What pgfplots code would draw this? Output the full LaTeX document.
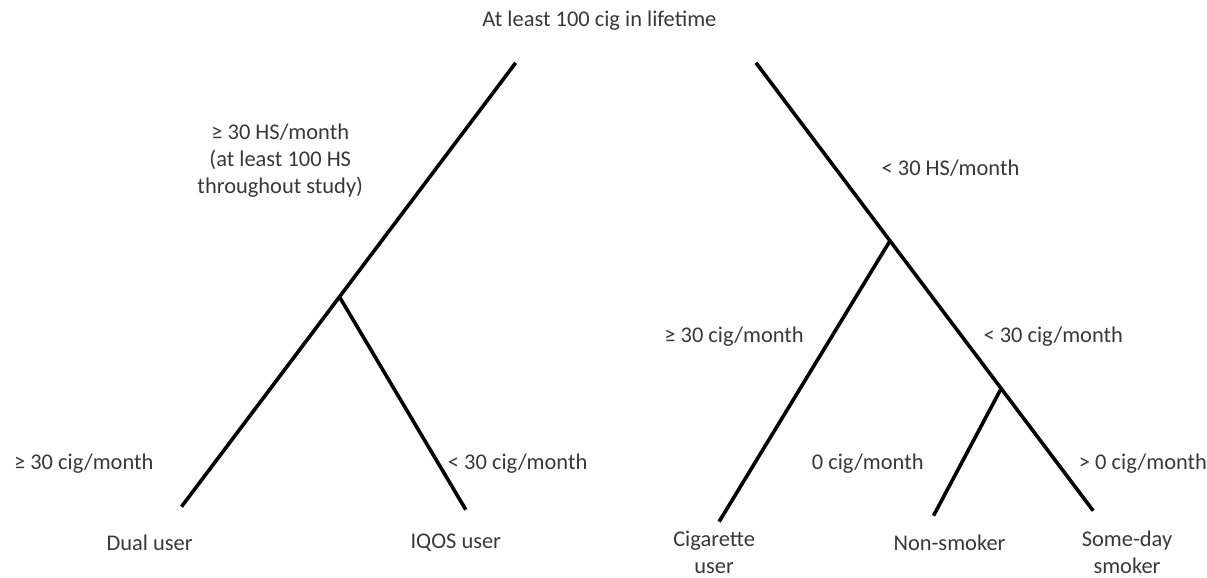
\documentclass[border=0pt]{standalone}
\usepackage{fontspec}
\setmainfont{Carlito}
\usepackage{pgfplots}
\pgfplotsset{compat=1.18}
\tikzset{lbl/.style={text=black!78,font=\fontsize{11.25}{13.6}\selectfont,align=center,inner sep=0pt,anchor=center}}
\begin{document}
\begin{tikzpicture}
\begin{axis}[width=603.5pt,height=289.5pt,scale only axis,
  xmin=0,xmax=1207,ymin=0,ymax=579,y dir=reverse,
  axis lines=none,clip=false]
\addplot[draw=none] coordinates {(0,0) (1207,579)};
% left tree
\addplot[black,line width=1.8pt] coordinates {(517,63) (182,508)};
\addplot[black,line width=1.8pt] coordinates {(340,297) (467,511)};
% right tree
\addplot[black,line width=1.8pt] coordinates {(758,63) (1096,512)};
\addplot[black,line width=1.8pt] coordinates {(892,242) (721,523)};
\addplot[black,line width=1.8pt] coordinates {(1003,391) (936,517)};
% labels
\node[lbl] at (axis cs:601,21) {At least 100 cig in lifetime};
\node[lbl] at (axis cs:281,161) {≥ 30 HS/month\\(at least 100 HS\\throughout study)};
\node[lbl] at (axis cs:953,169) {< 30 HS/month};
\node[lbl] at (axis cs:84,465) {≥ 30 cig/month};
\node[lbl] at (axis cs:519,465) {< 30 cig/month};
\node[lbl] at (axis cs:736,338) {≥ 30 cig/month};
\node[lbl] at (axis cs:1056,338) {< 30 cig/month};
\node[lbl] at (axis cs:870,465) {0 cig/month};
\node[lbl] at (axis cs:1146,465) {> 0 cig/month};
\node[lbl] at (axis cs:150,544) {Dual user};
\node[lbl] at (axis cs:457,544) {IQOS user};
\node[lbl] at (axis cs:716,554) {Cigarette\\user};
\node[lbl] at (axis cs:952,544) {Non-smoker};
\node[lbl] at (axis cs:1130,554) {Some-day\\smoker};
\end{axis}
\end{tikzpicture}
\end{document}
